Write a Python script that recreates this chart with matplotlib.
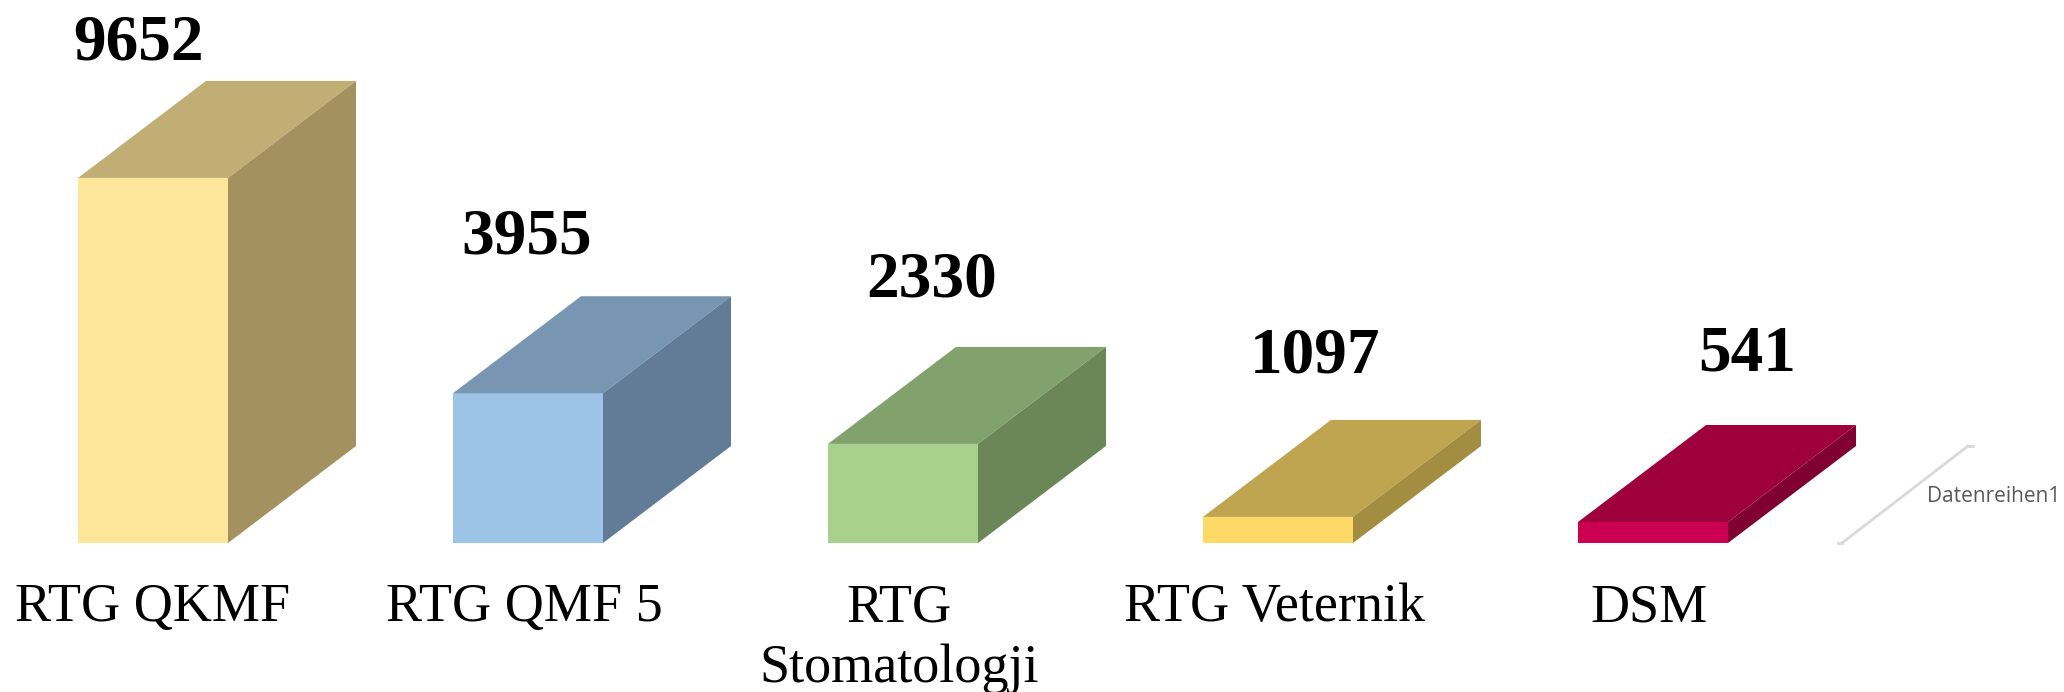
# 3D look column chart, drawn as flat polygons
import matplotlib
matplotlib.use("Agg")
import matplotlib.pyplot as plt

categories = ["RTG QKMF", "RTG QMF 5", "RTG\nStomatologji", "RTG Veternik", "DSM"]
values = [9652, 3955, 2330, 1097, 541]
# column heights (they do not all follow the printed numbers)
drawn_heights = [9652, 3960, 2620, 690, 555]

front_colors = ["#FDE599", "#9DC3E6", "#A9D18E", "#FFD966", "#CC0050"]
top_colors = ["#C0AE75", "#7895B2", "#82A26D", "#BFA54F", "#9E003E"]
side_colors = ["#A39260", "#627C97", "#6B8758", "#A38D40", "#800032"]

series_name = "Datenreihen1"

# scale: one category is 375 px, 26.44 value units per px
px_x = 1 / 375
px_y = 26.44
width = 150 * px_x
depth_x = 128 * px_x
depth_y = 97 * px_y

fig = plt.figure(figsize=(20.64, 6.92), dpi=100)
ax = fig.add_axes([0, 0, 1, 1])
ax.set_xlim(-153 * px_x, (2064 - 153) * px_x)
ax.set_ylim(-149 * px_y, 543 * px_y)
ax.axis("off")

# label offsets from the column, the labels were placed by hand in the original
label_dx = [-14, -1, 29, 37, 94]
label_y = [483, 290, 246, 170, 172]

for i, h in enumerate(drawn_heights):
    left = i - width / 2
    right = i + width / 2
    # front, top, side
    ax.fill([left, right, right, left], [0, 0, h, h], color=front_colors[i], lw=0)
    ax.fill([left, right, right + depth_x, left + depth_x], [h, h, h + depth_y, h + depth_y],
            color=top_colors[i], lw=0)
    ax.fill([right, right + depth_x, right + depth_x, right], [0, depth_y, h + depth_y, h],
            color=side_colors[i], lw=0)
    ax.text(i + label_dx[i] * px_x, label_y[i] * px_y, str(values[i]), ha="center", va="baseline",
            family="Liberation Serif", weight="bold", fontsize=47, color="black")
    # each line of a category is set on its own baseline
    for n, line in enumerate(categories[i].split("\n")):
        ax.text(i - 4 * px_x * (i > 0), (-78 - 61 * n) * px_y, line, ha="center", va="baseline",
                family="Liberation Serif", fontsize=39, color="black")

# depth axis with the series name
axis_x = 4.504
ax.plot([axis_x, axis_x + 126 * px_x], [0, depth_y], color="#D9D9D9", lw=2)
ax.plot([axis_x - 4 * px_x, axis_x], [0, 0], color="#D9D9D9", lw=2)
ax.plot([axis_x + 126 * px_x, axis_x + 131 * px_x], [depth_y, depth_y], color="#D9D9D9", lw=2)
ax.text(axis_x + 85 * px_x, 46 * px_y, series_name, ha="left", va="center",
        family="Open Sans", fontsize=15, color="#595959")

fig.savefig("out.png", dpi=100)
